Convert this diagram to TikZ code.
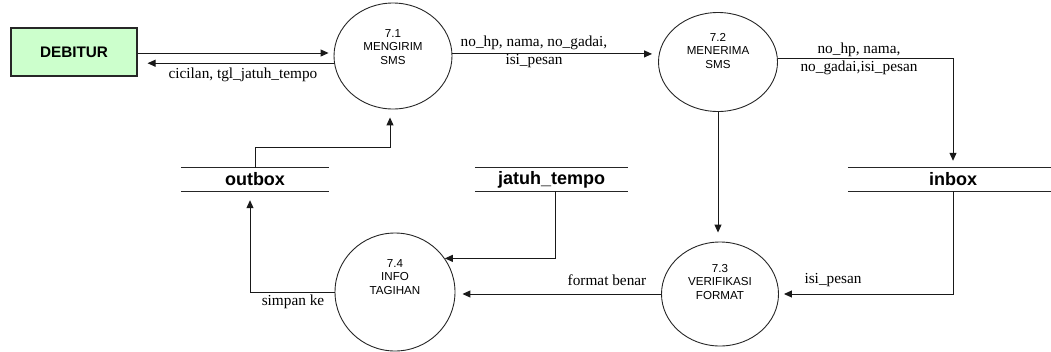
\documentclass[tikz,border=0pt]{standalone}
\usepackage{fontspec}
\setmainfont{Liberation Serif}
\setsansfont{Liberation Sans}
\usetikzlibrary{shapes.geometric,arrows.meta,calc}
\definecolor{entgreen}{HTML}{CCFFCC}
\begin{document}
\begin{tikzpicture}[x=1pt,y=-1pt,
 proc/.style={ellipse,draw=black!85,line width=0.9pt,inner sep=0pt},
 ptext/.style={font=\sffamily\fontsize{11.6}{13.5}\selectfont,align=center,inner sep=0pt},
 store/.style={minimum height=23pt,inner sep=0pt,font=\sffamily\bfseries\fontsize{18}{20}\selectfont},
 storeline/.style={line width=1pt,draw=black!85},
 flow/.style={line width=1pt,draw=black!90,-{Triangle[length=8pt,width=7pt]}},
 lbl/.style={font=\fontsize{15.3}{18}\selectfont,align=center,inner sep=0pt},
 ent/.style={draw=black!85,line width=1.1pt,fill=entgreen,inner sep=0pt,font=\sffamily\bfseries\fontsize{15.3}{17}\selectfont}]
\useasboundingbox (0,0) rectangle (1051,351);

% external entity
\node[ent,minimum width=126pt,minimum height=48pt] (deb) at (74,52) {DEBITUR};

% processes
\node[proc,minimum width=118pt,minimum height=106pt] (p1) at (393,56) {};
\node[ptext] (p1t) at (393,47) {7.1\\MENGIRIM\\SMS};
\node[proc,minimum width=119pt,minimum height=99pt] (p2) at (718,62) {};
\node[ptext] (p2t) at (718,51) {7.2\\MENERIMA\\SMS};
\node[proc,minimum width=117pt,minimum height=104pt] (p3) at (720,294) {};
\node[ptext] (p3t) at (720,282) {7.3\\VERIFIKASI\\FORMAT};
\node[proc,minimum width=120pt,minimum height=118pt] (p4) at (395,292) {};
\node[ptext] (p4t) at (395,277) {7.4\\INFO\\TAGIHAN};

% data stores
\node[store,minimum width=148pt] (ob) at (255,179.5) {outbox};
\node[store,minimum width=153pt] (jt) at (551.5,179.5) {jatuh\_tempo};
\node[store,minimum width=210pt] (ib) at (953,179.5) {inbox};
\foreach \s in {ob,jt,ib}
  \draw[storeline] (\s.north west) -- (\s.north east) (\s.south west) -- (\s.south east);

% flows
\draw[flow,shorten >=5pt] ([yshift=-1pt]deb.east) -- ([yshift=-1pt]deb.east -| p1.west);
\draw[flow,shorten >=10pt] (p1.187) -- (p1.187 -| deb.east);
\draw[flow,shorten >=6pt] (p1.2) -- (p1.2 -| p2.west);
\draw[flow,shorten >=7pt] (p2.3) -| (ib.north);
\draw[flow,shorten >=9pt] (p2.south) -- (p2.south |- p3.north);
\draw[flow,shorten >=5pt] (ib.south) |- (p3.east);
\draw[flow,shorten >=7pt] (p3.west) -- (p3.west -| p4.east);
\draw[flow] ([xshift=4pt]jt.south) |- (p4.34);
\draw[flow,shorten >=9pt] (p4.west) -| ([xshift=-5pt]ob.south);
\draw[flow,shorten >=8pt] (ob.north) -- ++(0,-20) -| ([xshift=-3pt]p1.south);

% flow labels
\node[lbl] (l1) at (243,75) {cicilan, tgl\_jatuh\_tempo};
\node[lbl] (l2) at (534,52) {no\_hp, nama, no\_gadai,\\isi\_pesan};
\node[lbl] (l3) at (859,59) {no\_hp, nama,\\no\_gadai,isi\_pesan};
\node[lbl] (l4) at (833,280) {isi\_pesan};
\node[lbl] (l5) at (607,280) {format benar};
\node[lbl] (l6) at (293,302) {simpan ke};
\end{tikzpicture}
\end{document}
